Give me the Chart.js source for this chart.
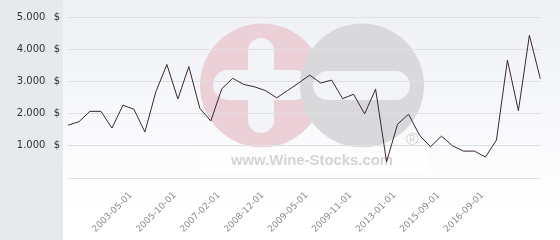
<!DOCTYPE html>
<html>
<head>
<meta charset="utf-8">
<title>Wine price history</title>
<script src="https://cdn.jsdelivr.net/npm/chart.js@4.4.1/dist/chart.umd.min.js"></script>
<style>
  html, body { margin: 0; padding: 0; background: #ffffff; }
  #wrap { position: relative; width: 560px; height: 240px; }
</style>
</head>
<body>
<div id="wrap"><canvas id="priceChart" width="560" height="240"></canvas></div>
<script>
// Price per auction
const values = [
    1640, 1750, 2070, 2070, 1550, 2260, 2135, 1430, 2680, 3525,
    2455, 3460, 2165, 1770, 2770, 3095, 2905, 2830, 2710, 2490,
    2720, 2950, 3195, 2950, 3040, 2465, 2600, 1990, 2760, 505,
    1670, 1980, 1330, 970, 1300, 1000, 835, 835, 650, 1175,
    3660, 2090, 4430, 3080
];

// Only some categories carry a visible date label
const labelIndex = [6, 10, 14, 18, 22, 26, 30, 34, 38];
const tickLabels = [
    '2003-05-01', '2005-10-01', '2007-02-01', '2008-12-01', '2009-05-01',
    '2009-11-01', '2013-01-01', '2015-09-01', '2016-09-01'
];
const yTicks = [0, 1000, 2000, 3000, 4000, 5000];

const categories = values.map(function(v, i) {
    const k = labelIndex.indexOf(i);
    return k >= 0 ? tickLabels[k] : '';
});

function formatPrice(v) {
    if (v === 0) return '';
    const s = String(Math.round(v));
    return s.replace(/\B(?=(\d{3})+(?!\d))/g, '.') + ' \u2002$';
}

// Grey side panel, light gradient behind the plot and the site watermark
const backdrop = {
    id: 'backdrop',
    beforeDraw: function(chart) {
        const ctx = chart.ctx;
        const w = chart.width, h = chart.height;
        ctx.save();
        ctx.fillStyle = '#e6eaed';
        ctx.fillRect(0, 0, 63, h);
        const grad = ctx.createLinearGradient(0, 0, 0, 210);
        grad.addColorStop(0, '#eef0f5');
        grad.addColorStop(1, '#ffffff');
        ctx.fillStyle = grad;
        ctx.fillRect(63, 0, w - 63, h);

        // watermark: pink circle with plus, grey circle with minus
        const bg = '#f3f4f8';
        ctx.fillStyle = '#ebd0d7';
        ctx.beginPath();
        ctx.arc(262, 85.5, 62, 0, Math.PI * 2);
        ctx.fill();
        ctx.fillStyle = bg;
        ctx.beginPath();
        ctx.roundRect(248, 38, 26, 95, 13);
        ctx.fill();
        ctx.beginPath();
        ctx.roundRect(213, 70, 96, 30, 15);
        ctx.fill();

        ctx.fillStyle = '#d9d9db';
        ctx.beginPath();
        ctx.arc(362, 85.5, 62, 0, Math.PI * 2);
        ctx.fill();
        ctx.fillStyle = bg;
        ctx.beginPath();
        ctx.roundRect(313, 71, 97, 29, 14.5);
        ctx.fill();

        ctx.fillStyle = 'rgba(255,255,255,0.55)';
        ctx.fillRect(200, 147, 228, 25);

        ctx.fillStyle = '#d4d4d6';
        ctx.font = 'bold 14px "Liberation Sans", Arial, sans-serif';
        ctx.textBaseline = 'alphabetic';
        ctx.textAlign = 'left';
        const txt = 'www.Wine-Stocks.com';
        const tw = ctx.measureText(txt).width;
        ctx.save();
        ctx.translate(231, 165);
        ctx.scale(162 / tw, 1);
        ctx.fillText(txt, 0, 0);
        ctx.restore();

        ctx.font = '17px "Liberation Sans", Arial, sans-serif';
        ctx.fillText('\u00ae', 406, 145);
        ctx.restore();
    }
};

const ctx = document.getElementById('priceChart');

new Chart(ctx, {
    type: 'line',
    data: {
        labels: categories,
        datasets: [{
            data: values,
            borderColor: '#3b2630',
            borderWidth: 1,
            tension: 0,
            fill: false,
            pointRadius: 0,
            pointHoverRadius: 0
        }]
    },
    options: {
        responsive: false,
        animation: false,
        events: [],
        layout: {
            padding: { top: 17, right: 5, bottom: 0, left: 0 }
        },
        plugins: {
            legend: { display: false },
            tooltip: { enabled: false }
        },
        scales: {
            x: {
                grid: { display: false, drawTicks: false },
                border: { display: false },
                ticks: {
                    autoSkip: false,
                    minRotation: 45,
                    maxRotation: 45,
                    padding: 12,
                    labelOffset: -3,
                    color: '#8a8a8a',
                    font: { family: 'DejaVu Sans', size: 9 }
                },
                afterFit: function(scale) { scale.height = 62; }
            },
            y: {
                min: 0,
                max: 5000,
                afterBuildTicks: function(scale) {
                    scale.ticks = yTicks.map(function(v) { return { value: v }; });
                },
                grid: { color: '#dfe0e6', lineWidth: 1, drawTicks: false },
                border: { display: false },
                ticks: {
                    padding: 8,
                    color: '#333333',
                    font: { family: 'DejaVu Sans', size: 10 },
                    callback: function(v) { return formatPrice(v); }
                },
                afterFit: function(scale) { scale.width = 68; }
            }
        }
    },
    plugins: [backdrop]
});
</script>
</body>
</html>
